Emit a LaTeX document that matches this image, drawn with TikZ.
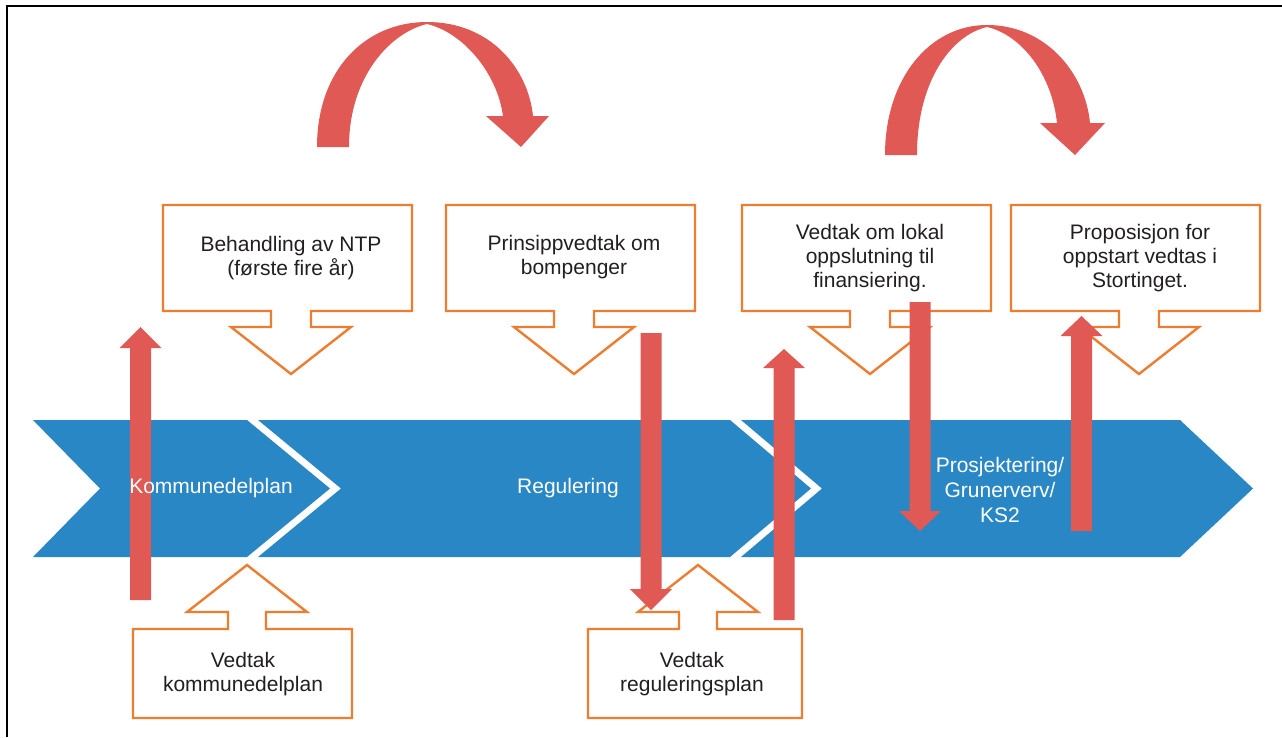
\documentclass[tikz,border=0pt]{standalone}
\usepackage{fontspec}
\setmainfont{Liberation Sans}
\definecolor{bandblue}{RGB}{41,135,197}
\definecolor{redarr}{RGB}{224,89,84}
\definecolor{orng}{RGB}{237,125,49}
\definecolor{txt}{RGB}{35,31,32}
\newcommand\mydowncall[5]{% L T W H c
  \filldraw[callout] (#1,#2) -- ++(#3,0) -- ++(0,#4) -- (#5+20,#2+#4) -- (#5+20,#2+#4+16)
    -- (#5+60,#2+#4+16) -- (#5,#2+#4+63) -- (#5-60,#2+#4+16) -- (#5-20,#2+#4+16)
    -- (#5-20,#2+#4) -- (#1,#2+#4) -- cycle;}
\newcommand\myupcall[5]{% L T W H c
  \filldraw[callout] (#1,#2) -- (#5-19,#2) -- (#5-19,#2-17) -- (#5-60,#2-17) -- (#5,#2-64)
    -- (#5+60,#2-17) -- (#5+19,#2-17) -- (#5+19,#2) -- (#1+#3,#2) -- ++(0,#4) -- (#1,#2+#4) -- cycle;}
\newcommand\myuparr[4]{% x bottom headbase tip
  \fill[redshape] (#1-10.5,#2) -- (#1-10.5,#3) -- (#1-21,#3) -- (#1,#4) -- (#1+21,#3)
    -- (#1+10.5,#3) -- (#1+10.5,#2) -- cycle;}
\begin{document}
\begin{tikzpicture}[x=1pt,y=-1pt,
  callout/.style={draw=orng, line width=2.4pt, fill=white, line join=miter},
  boxtext/.style={text=txt, align=center, font=\fontsize{21}{24}\selectfont, inner sep=0pt},
  bandtext/.style={text=white, align=center, font=\fontsize{21}{25}\selectfont, inner sep=0pt},
  redshape/.style={fill=redarr, draw=none},
  chev/.style={fill=bandblue, draw=none}]
\useasboundingbox (0,0) rectangle (1282,737);
\fill[white] (0,0) rectangle (1282,737);
% frame
\draw[line width=2.2pt] (7,737) -- (7,6) -- (1282,6);
% chevrons
\fill[chev] (33,420) -- (247,420) -- (330,488.5) -- (247,557) -- (33,557) -- (100,488.5) -- cycle;
\fill[chev] (258,420) -- (730,420) -- (811,488.5) -- (730,557) -- (258,557) -- (341,488.5) -- cycle;
\fill[chev] (741,420) -- (1180,420) -- (1253,488.5) -- (1180,557) -- (741,557) -- (822,488.5) -- cycle;
% top callouts
\mydowncall{163}{205}{249}{106}{291}
\mydowncall{446}{205}{249}{106}{574}
\mydowncall{742}{205}{249}{106}{870}
\mydowncall{1011}{205}{249}{106}{1139}
\node[boxtext] (t1) at (291,258) {Behandling av NTP\\(første fire år)};
\node[boxtext] (t2) at (574,257) {Prinsippvedtak om\\bompenger};
\node[boxtext] (t3) at (870,258) {Vedtak om lokal\\oppslutning til\\finansiering.};
\node[boxtext] (t4) at (1140,258) {Proposisjon for\\oppstart vedtas i\\Stortinget.};
% bottom callouts
\myupcall{133}{629}{219}{89}{247}
\myupcall{588}{629}{214}{89}{698}
\node[boxtext] (b1) at (243,674) {Vedtak\\kommunedelplan};
\node[boxtext] (b2) at (692,674) {Vedtak\\reguleringsplan};
% red straight arrows
\myuparr{140.5}{600}{348}{327}
\myuparr{651}{333}{589}{610}
\myuparr{784}{620}{368}{349}
\myuparr{920}{302}{511}{531}
\myuparr{1081.5}{531}{336}{316}
% band texts (on top of the arrows)
\node[bandtext] (c1) at (211,488.5) {Kommunedelplan};
\node[bandtext] (c2) at (568,488.5) {Regulering};
\node[bandtext] (c3) at (1000,490) {Prosjektering/\\Grunerverv/\\KS2};
% curved arrows
\fill[redshape] (317,147) .. controls (317,70) and (365,22) .. (427,22)
  .. controls (490,22) and (528,68) .. (533,116) -- (549,116) -- (521,147) -- (486,116) -- (503,116)
  .. controls (497,72) and (462,32) .. (427,24) .. controls (392,32) and (349,75) .. (349,147) -- cycle;
\fill[redshape] (885,155) .. controls (885,78) and (930,25) .. (987,25)
  .. controls (1045,25) and (1085,72) .. (1090,123) -- (1105,123) -- (1075,155) -- (1040,123) -- (1057,123)
  .. controls (1052,75) and (1022,35) .. (987,27) .. controls (952,35) and (917,80) .. (917,155) -- cycle;
\end{tikzpicture}
\end{document}
